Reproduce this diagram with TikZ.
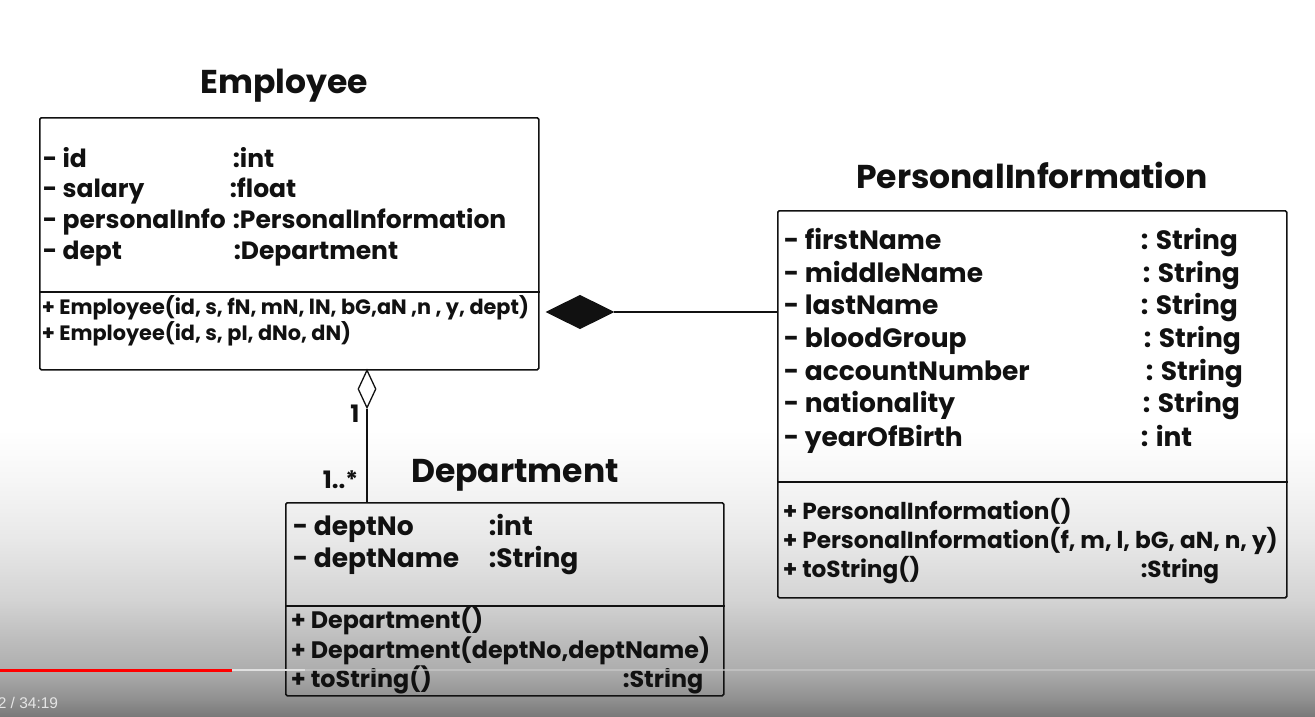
\documentclass[tikz,border=0pt]{standalone}
\usepackage{fontspec}
\setmainfont{Poppins}
\newfontfamily\clockfont{Liberation Sans}
\usepackage{tikz}
\usetikzlibrary{shapes.geometric,positioning}
\definecolor{inkcolor}{RGB}{17,17,17}
\definecolor{fadeA}{gray}{0.47}
\definecolor{fadeB}{gray}{0.56}
\definecolor{fadeC}{gray}{0.68}
\definecolor{fadeD}{gray}{0.74}
\definecolor{fadeE}{gray}{0.83}
\definecolor{fadeF}{gray}{0.91}
\definecolor{fadeG}{gray}{0.965}
\definecolor{barred}{RGB}{255,0,0}
\pgfdeclareverticalshading{playerfade}{100bp}{color(0bp)=(fadeA); color(25bp)=(fadeA); color(28bp)=(fadeB); color(33.2bp)=(fadeC); color(38.4bp)=(fadeD); color(45.4bp)=(fadeE); color(55.8bp)=(fadeF); color(66.3bp)=(fadeG); color(75bp)=(white); color(100bp)=(white)}

\begin{document}
\begin{tikzpicture}[x=1pt, y=-1pt, line width=1.6pt, every node/.style={text=inkcolor,font=\bfseries},
  classbox/.style={draw=inkcolor,rounded corners=1.5pt,inner sep=0pt,anchor=north west},
  classtitle/.style={anchor=base,inner sep=0pt,font=\bfseries\fontsize{33}{38}\selectfont},
  attr/.style={anchor=base west,inner sep=0pt,font=\bfseries\fontsize{26.5}{30}\selectfont},
  oper/.style={anchor=base west,inner sep=0pt,font=\bfseries\fontsize{23.8}{28}\selectfont},
  mult/.style={inner sep=0pt,font=\bfseries\fontsize{24}{28}\selectfont}]
\useasboundingbox (0,0) rectangle (1315,717);
% video player fade at the bottom
\shade[shading=playerfade] (0,430) rectangle (1315,717);

% Employee
\node[classtitle](emptitle) at (284,93) {Employee};
\node[classbox,minimum width=499pt,minimum height=252pt](emp) at (39,117) {};
\draw[inkcolor] (emp.west |- 0,292) -- (emp.east |- 0,292);
\node[attr,font=\bfseries\fontsize{25}{29}\selectfont](empid) at (42,167) {- id};
\node[attr,font=\bfseries\fontsize{25}{29}\selectfont](empidt) at (232,167) {:int};
\node[attr,font=\bfseries\fontsize{25}{29}\selectfont](empsal) at (42,197) {- salary};
\node[attr,font=\bfseries\fontsize{25}{29}\selectfont](empsalt) at (229,197) {:float};
\node[attr,font=\bfseries\fontsize{25}{29}\selectfont](emppi) at (42,228) {- personalInfo};
\node[attr,font=\bfseries\fontsize{25}{29}\selectfont](emppit) at (232,228) {:PersonalInformation};
\node[attr,font=\bfseries\fontsize{25}{29}\selectfont](empdept) at (42,259) {- dept};
\node[attr,font=\bfseries\fontsize{25}{29}\selectfont](empdeptt) at (233,259) {:Department};
\node[oper,font=\bfseries\fontsize{20.8}{24}\selectfont](empop1) at (41,314) {+ Employee(id, s, fN, mN, lN, bG,aN ,n , y, dept)};
\node[oper,font=\bfseries\fontsize{20.8}{24}\selectfont](empop2) at (41,340) {+ Employee(id, s, pI, dNo, dN)};

% PersonalInformation
\node[classtitle](pititle) at (1032,188) {PersonalInformation};
\node[classbox,minimum width=509pt,minimum height=387pt](pi) at (777,210) {};
\draw[inkcolor] (pi.west |- 0,482) -- (pi.east |- 0,482);
\node[attr](pifn) at (783,249) {- firstName};
\node[attr](pifnt) at (1140,249) {: String};
\node[attr](pimn) at (783,282) {- middleName};
\node[attr](pimnt) at (1142,282) {: String};
\node[attr](piln) at (783,314) {- lastName};
\node[attr](pilnt) at (1140,314) {: String};
\node[attr](pibg) at (783,347) {- bloodGroup};
\node[attr](pibgt) at (1143,347) {: String};
\node[attr](pian) at (783,380) {- accountNumber};
\node[attr](piant) at (1145,380) {: String};
\node[attr](pinat) at (783,412) {- nationality};
\node[attr](pinatt) at (1142,412) {: String};
\node[attr](piyob) at (783,446) {- yearOfBirth};
\node[attr](piyobt) at (1140,446) {: int};
\node[oper,font=\bfseries\fontsize{23.2}{27}\selectfont](piop1) at (782,519) {+ PersonalInformation()};
\node[oper,font=\bfseries\fontsize{23.2}{27}\selectfont](piop2) at (782,548) {+ PersonalInformation(f, m, l, bG, aN, n, y)};
\node[oper,font=\bfseries\fontsize{23.2}{27}\selectfont](piop3) at (782,577) {+ toString()};
\node[oper,font=\bfseries\fontsize{23.2}{27}\selectfont](piop3t) at (1140,577) {:String};

% Department
\node[classtitle](depttitle) at (515,482) {Department};
\node[classbox,minimum width=438pt,minimum height=193pt](dept) at (285,502) {};
\draw[inkcolor] (dept.west |- 0,606) -- (dept.east |- 0,606);
\node[attr](deptno) at (292,535) {- deptNo};
\node[attr](deptnot) at (488,535) {:int};
\node[attr](deptname) at (292,567) {- deptName};
\node[attr](deptnamet) at (488,567) {:String};
\node[oper](deptop1) at (290,628) {+ Department()};
\node[oper](deptop2) at (290,658) {+ Department(deptNo,deptName)};
\node[oper](deptop3) at (290,687) {+ toString()};
\node[oper](deptop3t) at (622,687) {:String};

% composition Employee <>-- PersonalInformation
\node[diamond,aspect=2,draw=inkcolor,fill=inkcolor,inner sep=0pt,minimum width=66pt,minimum height=33pt](comp) at (580,312) {};
\draw[inkcolor] (comp.east) -- (pi.west |- comp.east);

% aggregation Employee <>-- Department
\node[diamond,aspect=0.5,draw=inkcolor,line width=1.3pt,inner sep=0pt,minimum width=18pt,minimum height=38pt](agg) at (367,389) {};
\draw[inkcolor] (agg.south) -- (agg.south |- dept.north);
\node[mult,anchor=base](multone) at (355,422) {1};
\node[mult,anchor=base east](multmany) at (359,488) {1..*};

% player bar
\draw[line width=3pt,barred] (0,670) -- (232,670);
\draw[line width=2.5pt,white!88!black] (232,670) -- (305,670);
\draw[line width=2.5pt,white!78!black,opacity=0.7] (305,670) -- (1315,670);
\node[anchor=base west,inner sep=0pt,text=white!90!black,font=\clockfont\fontsize{15.5}{18}\selectfont](clock) at (-3,708) {2 / 34:19};
\end{tikzpicture}
\end{document}
